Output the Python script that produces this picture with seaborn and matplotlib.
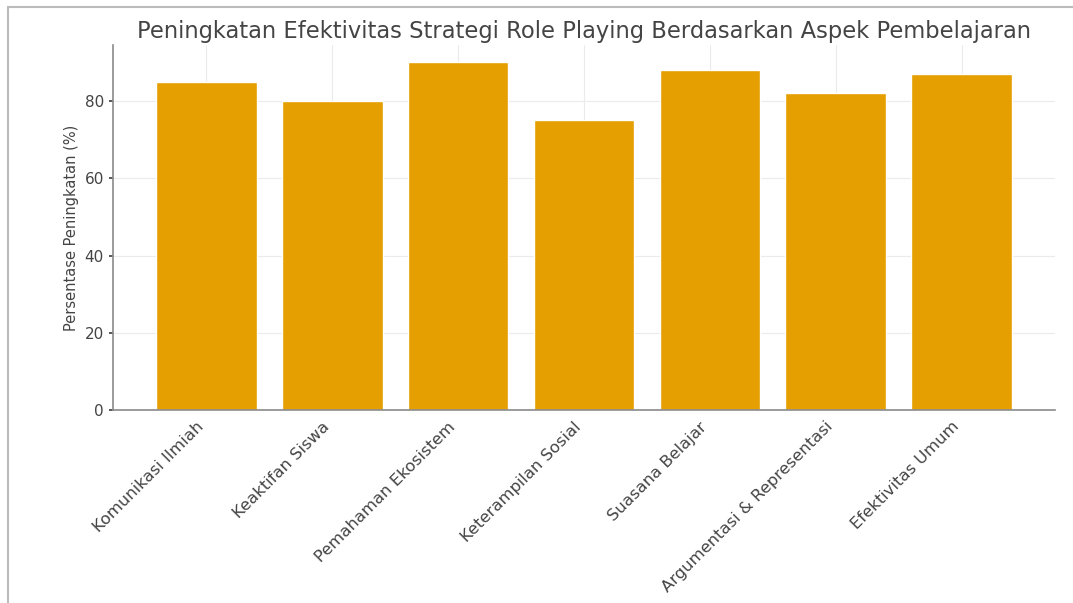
import matplotlib
matplotlib.use("Agg")
import matplotlib.pyplot as plt
import seaborn as sns
import pandas as pd
from matplotlib.patches import Rectangle

categories = ["Komunikasi Ilmiah", "Keaktifan Siswa", "Pemahaman Ekosistem",
              "Keterampilan Sosial", "Suasana Belajar", "Argumentasi & Representasi",
              "Efektivitas Umum"]
values = [85, 80, 90, 75, 88, 82, 87]
title = "Peningkatan Efektivitas Strategi Role Playing Berdasarkan Aspek Pembelajaran"
ylabel = "Persentase Peningkatan (%)"

sns.set_theme(style="whitegrid")
plt.rcParams['font.family'] = ['DejaVu Sans']
text_color = "#444444"

df = pd.DataFrame({"cat": categories, "val": values})

fig = plt.figure(figsize=(10.73, 6.03), dpi=100)
ax = fig.add_axes([113/1073, 1 - 410/603, (1055-113)/1073, (410-45)/603])
sns.barplot(data=df, x="cat", y="val", color="#E69F00", saturation=1, width=0.8, ax=ax)
ax.set_xlim(-0.74, 6.74)
ax.set_ylim(0, 94.5)
ax.set_yticks([0, 20, 40, 60, 80])
ax.set_xlabel("")
ax.set_ylabel(ylabel, fontsize=10.5, color=text_color)
ax.set_title(title, fontsize=16.3, color=text_color, pad=5)
ax.tick_params(axis='x', labelsize=11.8, colors=text_color, length=3)
ax.tick_params(axis='y', labelsize=11, colors=text_color, length=3, left=True)
for lab in ax.get_xticklabels():
    lab.set_rotation(45)
    lab.set_ha('right')
ax.grid(True, color="#ebebeb", linewidth=0.8)
ax.set_axisbelow(True)
for s in ["top", "right"]:
    ax.spines[s].set_visible(False)
for s in ["left", "bottom"]:
    ax.spines[s].set_color("#8a8a8a")
    ax.spines[s].set_linewidth(1.2)

fig.patches.append(Rectangle((8/1073, -0.1), 1.1, 1 - 7/603 + 0.1,
                             transform=fig.transFigure, fill=False,
                             edgecolor="#bbbbbb", linewidth=1.5))
fig.savefig("out.png", dpi=100)
